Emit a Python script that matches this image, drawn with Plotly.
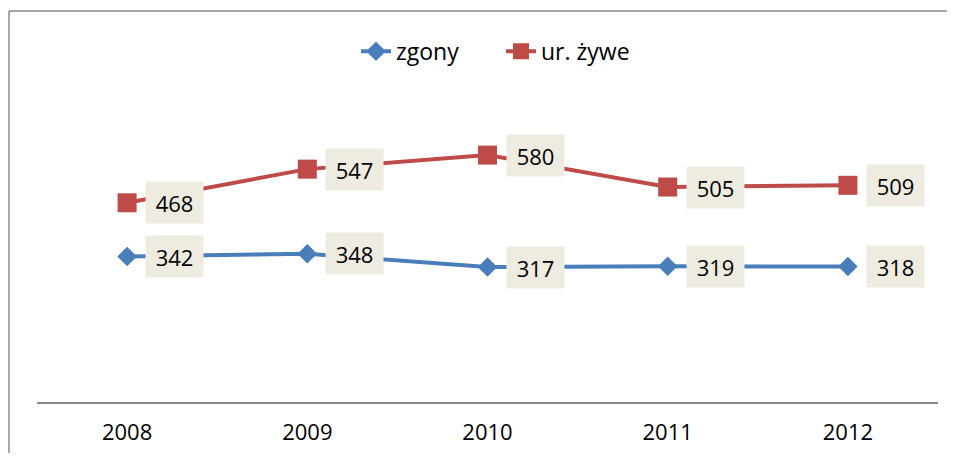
import plotly.graph_objects as go

years = ["2008", "2009", "2010", "2011", "2012"]
zgony = [342, 348, 317, 319, 318]
ur_zywe = [468, 547, 580, 505, 509]

FONT = "Open Sans"
fig = go.Figure()
fig.add_trace(go.Scatter(
    x=years, y=zgony, name="zgony", mode="lines+markers",
    line=dict(color="#4A7EBB", width=4),
    marker=dict(symbol="diamond", size=15, color="#4A7EBB"),
))
fig.add_trace(go.Scatter(
    x=years, y=ur_zywe, name="ur. żywe", mode="lines+markers",
    line=dict(color="#BE4B48", width=4),
    marker=dict(symbol="square", size=19, color="#BE4B48"),
))

annotations = []
for series in (zgony, ur_zywe):
    for i, yv in enumerate(series):
        annotations.append(dict(
            x=i, y=yv, xref="x", yref="y", text=str(yv), showarrow=False,
            xanchor="left", yanchor="middle", xshift=18,
            bgcolor="#EEECE1", borderpad=5, width=47, height=31,
            font=dict(family=FONT, size=22, color="#000000"),
        ))

border = dict(color="#8C8C8C", width=1.5)
# page has an 8px body margin; figure sized so the page does not overflow
fig.update_layout(
    width=939, height=445,
    margin=dict(l=29, r=9, t=96, b=51, autoexpand=False),
    paper_bgcolor="white", plot_bgcolor="white",
    showlegend=True,
    legend=dict(orientation="h", x=0.515, xanchor="center", y=1.177, yanchor="middle",
                font=dict(family=FONT, size=23, color="#000000"),
                entrywidth=100),
    annotations=annotations,
    xaxis=dict(type="category", showgrid=False, showline=True, linecolor="#898989", linewidth=1.5,
               ticks="", ticklabelstandoff=10, range=[-0.5, 4.5],
               tickfont=dict(family=FONT, size=22, color="#000000"), zeroline=False),
    yaxis=dict(range=[0, 700], visible=False, showgrid=False, zeroline=False),
    shapes=[
        dict(type="line", xref="paper", yref="paper", x0=-0.0311, x1=-0.0311,
             y0=-0.2, y1=1.312, line=border),
        dict(type="line", xref="paper", yref="paper", x0=-0.0311, x1=1.0099,
             y0=1.312, y1=1.312, line=border),
    ],
    font=dict(family=FONT),
)

fig.write_html("out.html")
